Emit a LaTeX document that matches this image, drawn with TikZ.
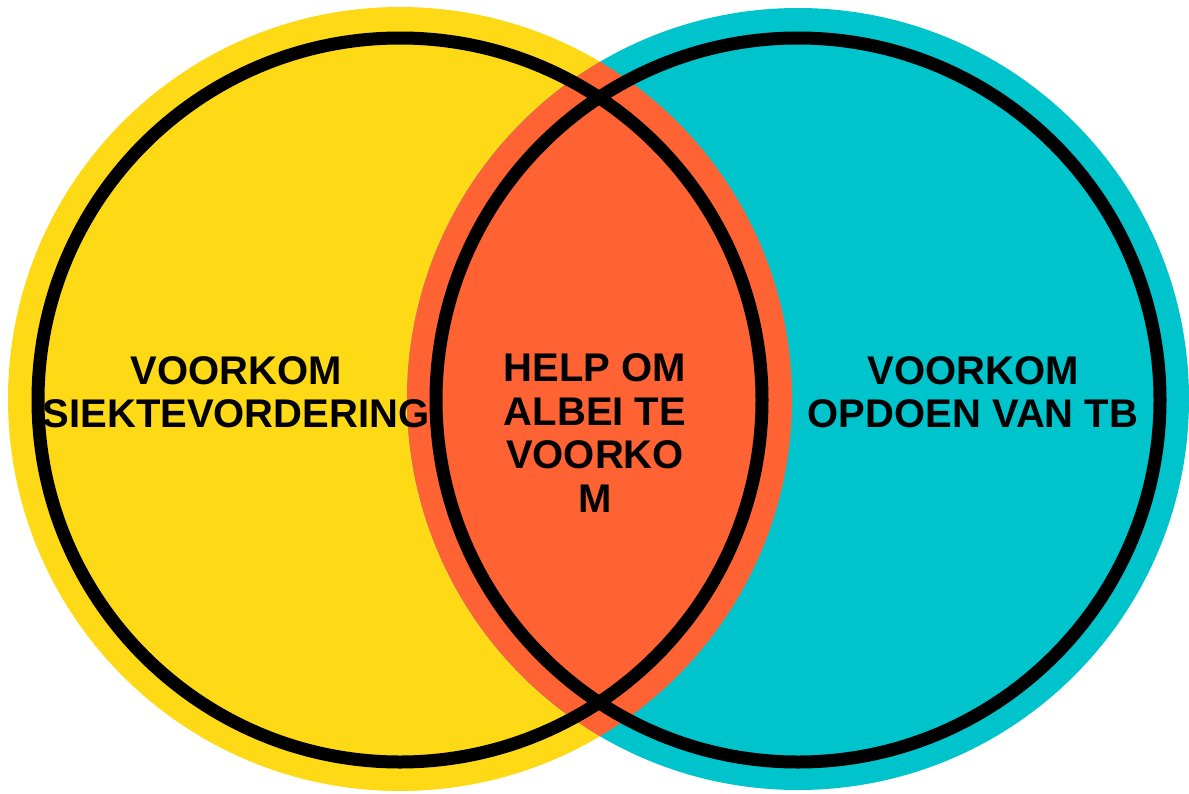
\documentclass[tikz,border=0pt]{standalone}
\usepackage{fontspec}
\setmainfont{Liberation Sans}
\definecolor{venyellow}{RGB}{253,217,22}
\definecolor{vencyan}{RGB}{0,196,204}
\definecolor{venorange}{RGB}{255,99,52}
\begin{document}
\begin{tikzpicture}[x=1pt,y=-1pt,
  ring/.style={draw=black,line width=13pt},
  label/.style={font=\bfseries\fontsize{40}{43.5}\selectfont,align=center,inner sep=0pt,text=black}]
\useasboundingbox (0,0) rectangle (1189,793);
\coordinate (L) at (400,399);
\coordinate (R) at (798,399);
\coordinate (LR) at (400,400);
\coordinate (RR) at (798,400);
\fill[venyellow] (L) circle[radius=392pt];
\fill[vencyan] (R) circle[radius=391pt];
\begin{scope}
  \clip (L) circle[radius=392pt];
  \fill[venorange] (R) circle[radius=391pt];
\end{scope}
\draw[ring] (LR) circle[radius=362pt];
\draw[ring] (RR) circle[radius=362pt];
\node[label] (left) at (236,392) {VOORKOM\\SIEKTEVORDERING};
\node[label] (mid) at (595,433) {HELP OM\\ALBEI TE\\VOORKO\\M};
\node[label] (right) at (973,392) {VOORKOM\\OPDOEN VAN TB};
\end{tikzpicture}
\end{document}
